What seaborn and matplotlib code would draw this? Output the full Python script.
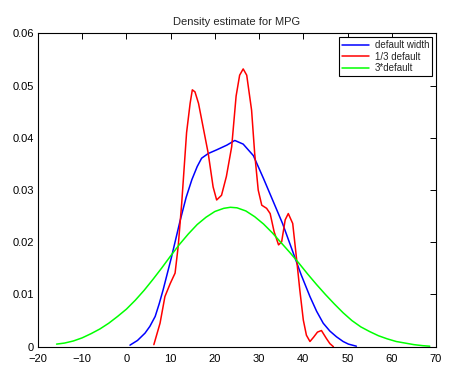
import matplotlib
matplotlib.use("Agg")
import matplotlib.pyplot as plt
import seaborn as sns
from matplotlib.ticker import FuncFormatter

# Density estimates for MPG
x_default = [0.8, 2.5, 4.2, 5.3, 6.5, 7.4, 8.3, 10.2, 12.1, 13.5, 14.8, 16, 17, 18.5, 20.4,
             22.7, 24.5, 26.4, 28.7, 31, 33.2, 35.3, 37.7, 39.5, 41.5, 43, 44.5, 46, 47.5,
             49, 50.2, 52]
y_default = [0.0003, 0.0012, 0.0026, 0.0039, 0.0058, 0.0082, 0.0109, 0.0172, 0.0240, 0.0286,
             0.0320, 0.0345, 0.0361, 0.0370, 0.0377, 0.0386, 0.0395, 0.0388, 0.0366, 0.0322,
             0.0278, 0.0236, 0.0180, 0.0138, 0.0096, 0.0068, 0.0045, 0.0030, 0.0019, 0.0010,
             0.0005, 0.0001]

x_third = [6.2, 7.6, 8.7, 9.9, 11, 11.7, 12.5, 13.6, 14.4, 14.9, 15.5, 16.3, 17.4, 18.5, 19.6,
           20.4, 21.5, 22.6, 23.8, 24.8, 25.6, 26.4, 27.2, 28.3, 29, 29.8, 30.6, 31.7, 32.5,
           33.4, 34.4, 35.1, 35.9, 36.6, 37.6, 38.5, 39.2, 40, 40.7, 41.5, 42.3, 43.2, 44.1,
           45.2, 46.0, 46.8]
y_third = [0.0004, 0.0045, 0.0096, 0.0121, 0.0141, 0.0192, 0.0275, 0.0410, 0.0466, 0.0492,
           0.0488, 0.0466, 0.0418, 0.0370, 0.0306, 0.0281, 0.0290, 0.0326, 0.0383, 0.0480,
           0.0520, 0.0532, 0.0520, 0.0453, 0.0370, 0.0300, 0.0271, 0.0265, 0.0255, 0.0220,
           0.0195, 0.0201, 0.0243, 0.0255, 0.0236, 0.0166, 0.0109, 0.0051, 0.0022, 0.0010,
           0.0018, 0.0028, 0.0031, 0.0016, 0.0006, 0.0]

x_triple = [-15.8, -14, -12, -10, -8, -6, -4, -2, 0, 2, 4, 6, 8, 10, 12, 14, 16, 18, 20, 22,
            23.5, 25, 27, 29, 31, 33, 35, 37, 39, 41, 43, 45, 47, 49, 51, 53, 55, 57, 59, 61,
            63, 65, 67, 68.6]
y_triple = [0.0005, 0.0007, 0.0011, 0.0017, 0.0025, 0.0034, 0.0045, 0.0058, 0.0072, 0.0089,
            0.0108, 0.0129, 0.0151, 0.0174, 0.0196, 0.0216, 0.0234, 0.0248, 0.0259, 0.0265,
            0.0267, 0.0266, 0.0260, 0.0249, 0.0235, 0.0218, 0.0199, 0.0180, 0.0160, 0.0139,
            0.0119, 0.0100, 0.0082, 0.0065, 0.0050, 0.0038, 0.0029, 0.0021, 0.0015, 0.0010,
            0.0007, 0.0004, 0.0002, 0.0001]

labels = ["default width", "1/3 default", "3*default"]
colors = ["#0000ff", "#ff0000", "#00ff00"]

sns.set_style("white")
plt.rcParams["font.family"] = ["Liberation Sans", "DejaVu Sans"]

fig = plt.figure(figsize=(4.72, 3.88), dpi=100)
ax = fig.add_axes([0.0805, 0.1064, 0.8432, 0.8075])

series = [(x_default, y_default), (x_third, y_third), (x_triple, y_triple)]
for (xs, ys), lab, col in zip(series, labels, colors):
    sns.lineplot(x=xs, y=ys, ax=ax, color=col, label=lab, lw=1.1, sort=False, estimator=None)

ax.set_xlim(-20, 70)
ax.set_ylim(0, 0.06)
ax.set_xticks(range(-20, 71, 10))
ax.set_yticks([0, 0.01, 0.02, 0.03, 0.04, 0.05, 0.06])
ax.yaxis.set_major_formatter(FuncFormatter(lambda v, p: f"{v:g}"))
ax.tick_params(direction="in", length=4, width=0.7, top=True, right=True,
               labelsize=8, colors="black", pad=3)
ax.tick_params(axis="x", pad=5)
for sp in ax.spines.values():
    sp.set_color("black")
    sp.set_linewidth(0.8)
ax.set_title("Density estimate for MPG", fontsize=8, pad=6)

leg = ax.legend(loc="upper right", fontsize=7, handlelength=2.8, borderaxespad=0.4,
                fancybox=False, framealpha=1, labelspacing=0.15, borderpad=0.3,
                handletextpad=0.6)
leg.get_frame().set_edgecolor("black")
leg.get_frame().set_linewidth(0.8)

fig.savefig("out.png", dpi=100)
